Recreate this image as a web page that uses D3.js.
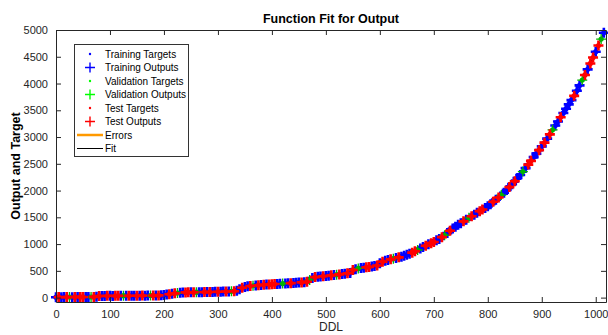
<!DOCTYPE html>
<html>
<head>
<meta charset="utf-8">
<script src="https://cdn.jsdelivr.net/npm/d3@7"></script>
<style>
  body { margin: 0; background: #fff; }
  svg { display: block; font-family: "Liberation Sans", Arial, sans-serif; }
</style>
</head>
<body>
<svg id="chart" width="608" height="335"></svg>
<script>
// DDL inputs (samples every 5)
const ddl = [
  0,5,10,15,20,25,30,35,40,45,50,55,60,65,70,75,80,85,90,95,
  100,105,110,115,120,125,130,135,140,145,150,155,160,165,170,175,180,185,190,195,
  200,205,210,215,220,225,230,235,240,245,250,255,260,265,270,275,280,285,290,295,
  300,305,310,315,320,325,330,335,340,345,350,355,360,365,370,375,380,385,390,395,
  400,405,410,415,420,425,430,435,440,445,450,455,460,465,470,475,480,485,490,495,
  500,505,510,515,520,525,530,535,540,545,550,555,560,565,570,575,580,585,590,595,
  600,605,610,615,620,625,630,635,640,645,650,655,660,665,670,675,680,685,690,695,
  700,705,710,715,720,725,730,735,740,745,750,755,760,765,770,775,780,785,790,795,
  800,805,810,815,820,825,830,835,840,845,850,855,860,865,870,875,880,885,890,895,
  900,905,910,915,920,925,930,935,940,945,950,955,960,965,970,975,980,985,990,995,
  1000,1005,1010,1015
];

// target / output values
const targets = [
  8,10,9,12,10,11,9,12,10,13,11,10,12,11,13,14,
  30,32,31,33,34,32,33,35,34,36,35,34,36,37,35,36,38,37,39,38,40,39,41,42,
  48,56,64,72,80,86,91,95,
  97,98,99,100,101,101,102,103,104,105,106,108,109,110,112,113,115,117,120,
  130,158,183,200,210,217,222,
  228,232,236,240,244,247,250,253,256,259,262,264,267,270,273,276,280,284,289,296,
  330,365,383,390,395,400,405,410,416,422,428,434,440,447,454,462,
  515,532,545,553,560,567,574,581,590,600,
  640,672,690,703,
  715,728,740,752,765,783,800,820,840,865,890,918,945,970,995,1018,
  1040,1070,1095,1130,1165,1205,1250,1290,1325,1360,1390,1425,1455,1490,1520,1550,
  1585,1615,1645,1675,1705,1745,1790,1830,1870,1915,1960,2010,2065,2120,2175,2235,
  2290,2355,2420,2485,2555,2625,2690,2755,2825,2895,2970,3050,3135,3215,3290,3370,
  3450,3530,3610,3690,3770,3865,3965,4065,4160,4265,4375,4485,4595,4710,4830,4950
];
const outputs = targets.slice();

// which set each sample belongs to: T = training, V = validation, S = test
const split =
  "TSTTSVTSTS" + "STTVSTSTTS" + "TTSSTVTSTT" + "STSTTVSTST" + "TTSTSVTTSS" +
  "TSVTTSTSTT" + "STTSTVSTTS" + "TTSVTSTSTS" + "SSTTVTTSTT" + "TSTSVTSTTS" +
  "TTSTVSTTST" + "STVTTSSTTS" + "TSTTSVTSTT" + "TTSSVTTSTS" + "STTSVTSTTT" +
  "TSTVSTTSST" + "TTSTSVTTST" + "STTVTSSTTS" + "TSTSVTTSTT" + "TTSTTVSTSS" +
  "TSVT";

const xTicks = [0,100,200,300,400,500,600,700,800,900,1000];
const yTicks = [0,500,1000,1500,2000,2500,3000,3500,4000,4500,5000];

const sets = [
  { key: "T", name: "Training", color: "#0000ff", legend: "#0000ff" },
  { key: "V", name: "Validation", color: "#00b400", legend: "#00ff00" },
  { key: "S", name: "Test", color: "#ff0000", legend: "#ff0000" }
];

const svg = d3.select("#chart");
const mLeft = 56, mRight = 606, mTop = 30, mBottom = 302;

const x = d3.scaleLinear().domain([0, 1019]).range([mLeft, mRight]);
const y = d3.scaleLinear().domain([-82, 5000]).range([mBottom, mTop]);

const pts = ddl.map((d, i) => ({ x: d, t: targets[i], o: outputs[i], s: split[i] }));

// fit line underneath
svg.append("path")
  .datum(pts)
  .attr("fill", "none")
  .attr("stroke", "#000")
  .attr("stroke-width", 1)
  .attr("d", d3.line().x(d => x(d.x)).y(d => y(d.o)));

// training band first so the blue shows as the base
sets.forEach(s => {
  const data = pts.filter(p => p.s === s.key);
  svg.append("g").selectAll("circle").data(data).join("circle")
    .attr("cx", d => x(d.x)).attr("cy", d => y(d.t))
    .attr("r", 2.6).attr("fill", s.color);
  svg.append("g").selectAll("path").data(data).join("path")
    .attr("d", d => `M${x(d.x) - 5},${y(d.o)}h10M${x(d.x)},${y(d.o) - 5}v10`)
    .attr("stroke", s.color)
    .attr("stroke-width", s.key === "V" ? 1.3 : 2.6);
});

// axes
const axisColor = "#262626";
const fmt = d3.format("d");
const gx = svg.append("g").attr("transform", `translate(0,${mBottom})`)
  .call(d3.axisBottom(x).tickValues(xTicks).tickFormat(fmt).tickSizeInner(-5).tickSizeOuter(0).tickPadding(8));
const gxTop = svg.append("g").attr("transform", `translate(0,${mTop})`)
  .call(d3.axisTop(x).tickValues(xTicks).tickSizeInner(-5).tickSizeOuter(0).tickFormat(""));
const gy = svg.append("g").attr("transform", `translate(${mLeft},0)`)
  .call(d3.axisLeft(y).tickValues(yTicks).tickFormat(fmt).tickSizeInner(-5).tickSizeOuter(0).tickPadding(8));
const gyR = svg.append("g").attr("transform", `translate(${mRight},0)`)
  .call(d3.axisRight(y).tickValues(yTicks).tickSizeInner(-5).tickSizeOuter(0).tickFormat(""));

[gx, gxTop, gy, gyR].forEach(g => {
  g.select(".domain").attr("stroke", axisColor);
  g.selectAll(".tick line").attr("stroke", axisColor);
  g.selectAll("text").attr("fill", axisColor).style("font-size", "11px")
    .style("font-family", "'Liberation Sans', Arial, sans-serif");
});

// titles
svg.append("text").attr("x", (mLeft + mRight) / 2).attr("y", 23)
  .attr("text-anchor", "middle").style("font-size", "12.5px").style("font-weight", "bold")
  .text("Function Fit for Output");
svg.append("text").attr("x", (mLeft + mRight) / 2).attr("y", 331)
  .attr("text-anchor", "middle").style("font-size", "12px").attr("fill", axisColor)
  .text("DDL");
svg.append("text")
  .attr("transform", `translate(20,${(mTop + mBottom) / 2}) rotate(-90)`)
  .attr("text-anchor", "middle").style("font-size", "12.5px").style("font-weight", "bold")
  .text("Output and Target");

// legend
const lg = svg.append("g");
lg.append("rect").attr("x", 74.5).attr("y", 44.5).attr("width", 114).attr("height", 112)
  .attr("fill", "#fff").attr("stroke", "#333").attr("stroke-width", 1);
const items = [];
sets.forEach(s => {
  items.push({ label: s.name + " Targets", kind: "dot", color: s.legend });
  items.push({ label: s.name + " Outputs", kind: "plus", color: s.legend });
});
items.push({ label: "Errors", kind: "line", color: "#ff9900" });
items.push({ label: "Fit", kind: "line", color: "#000" });

items.forEach((it, i) => {
  const cy = 54 + i * 13.5;
  const g = lg.append("g");
  if (it.kind === "dot") {
    g.append("circle").attr("cx", 90).attr("cy", cy).attr("r", 1.2).attr("fill", it.color);
  } else if (it.kind === "plus") {
    g.append("path").attr("d", `M85,${cy}H95M90,${cy - 5}V${cy + 5}`)
      .attr("stroke", it.color).attr("stroke-width", 1.4);
  } else {
    g.append("line").attr("x1", 77).attr("x2", 103).attr("y1", cy).attr("y2", cy)
      .attr("stroke", it.color).attr("stroke-width", it.color === "#000" ? 1 : 2.5);
  }
  g.append("text").attr("x", 105).attr("y", cy + 3.5).style("font-size", "10px")
    .attr("fill", "#000").text(it.label);
});
</script>
</body>
</html>
